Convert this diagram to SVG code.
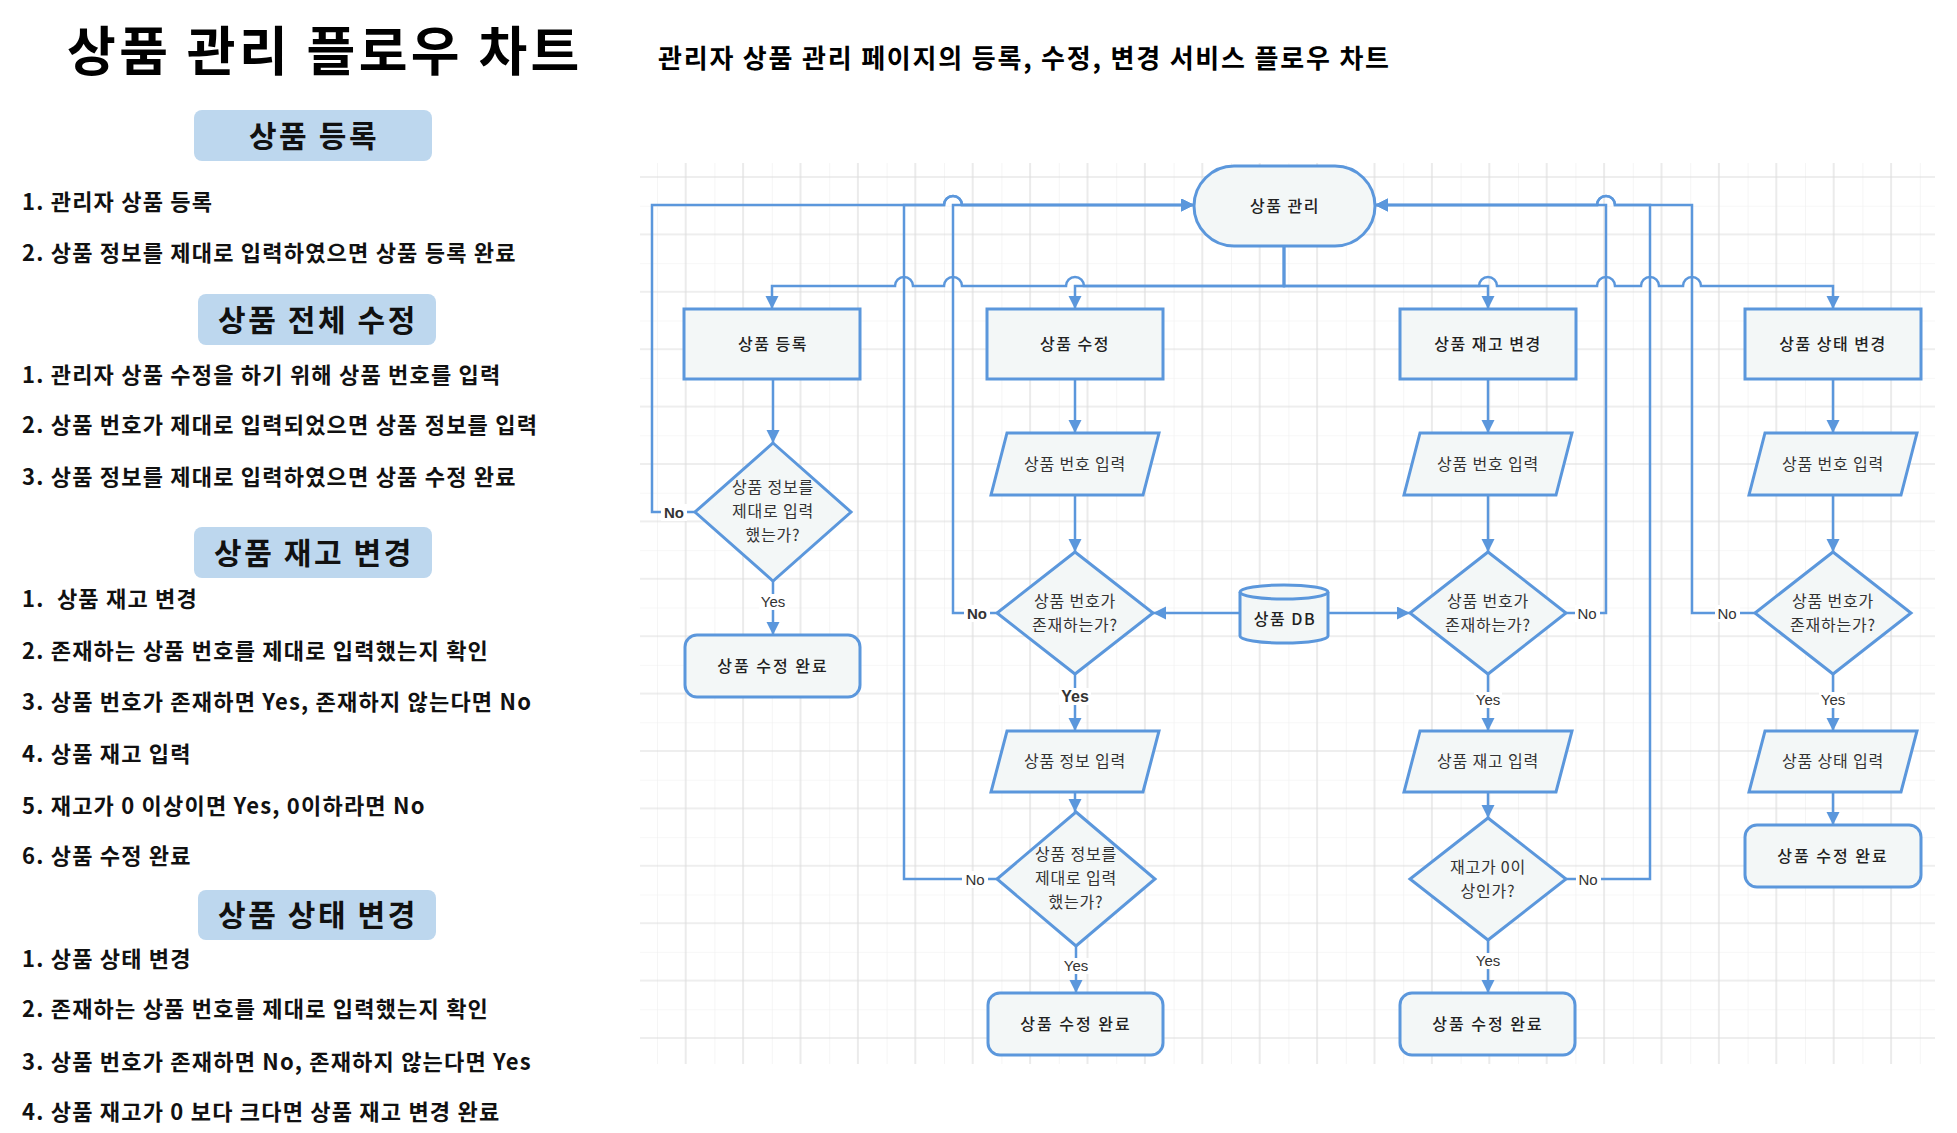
<svg xmlns="http://www.w3.org/2000/svg" width="1957" height="1133" viewBox="0 0 1957 1133">
<style>
.kr{font-family:"Noto Sans CJK KR","Noto Sans",sans-serif}
.title{font-size:53px;font-weight:bold;fill:#000;letter-spacing:3.4px}
.sub{font-size:26px;font-weight:bold;fill:#000;letter-spacing:1.8px}
.hdr{font-size:30px;font-weight:bold;fill:#111;text-anchor:middle;letter-spacing:2.6px}
.li{font-size:22px;font-weight:bold;fill:#111;white-space:pre;letter-spacing:1.2px}
.hbox{fill:#bdd7ee}
.node{fill:#f3f7f7;stroke:#5b97dc;stroke-width:3}
.edge{fill:none;stroke:#5b97dc;stroke-width:2.5}
.arr{marker-end:url(#arrow)}
.t{font-size:16px;text-anchor:middle;fill:#333;letter-spacing:0.8px}
.tb{font-size:16px;text-anchor:middle;fill:#222;font-weight:500;letter-spacing:1.5px}
.tc{font-size:16px;text-anchor:middle;fill:#222;font-weight:500;letter-spacing:2px}
.lbl{font-family:"Liberation Sans",Arial,sans-serif;font-size:15px;fill:#333;text-anchor:middle}
.lblb{font-weight:bold}
.lbg{fill:#ffffff}
</style>
<defs>
<marker id="arrow" markerUnits="userSpaceOnUse" markerWidth="14" markerHeight="14" refX="13" refY="6.5" orient="auto">
<path d="M0,0 L13,6.5 L0,13 z" fill="#5b97dc"/>
</marker>
<pattern id="grid" x="657" y="148.3" width="57.4" height="57.4" patternUnits="userSpaceOnUse">
<path d="M0,0 V57.4 M0,0 H57.4" stroke="#efefef" stroke-width="1.2" fill="none"/>
<path d="M28.7,0 V57.4 M0,28.7 H57.4" stroke="#dedede" stroke-width="1.2" fill="none"/>
</pattern>
</defs>
<rect width="1957" height="1133" fill="#ffffff"/>

<g id="header">
<text class="kr title" x="67" y="71">상품 관리 플로우 차트</text>
<text class="kr sub" x="658" y="68">관리자 상품 관리 페이지의 등록, 수정, 변경 서비스 플로우 차트</text>
</g>

<g id="legend">
<g id="sec-register">
<rect class="hbox" x="194" y="110" width="238" height="51" rx="8"/>
<text class="kr hdr" x="314" y="147">상품 등록</text>
<text class="kr li" x="22" y="210">1. 관리자 상품 등록</text>
<text class="kr li" x="22" y="261">2. 상품 정보를 제대로 입력하였으면 상품 등록 완료</text>
</g>
<g id="sec-edit">
<rect class="hbox" x="198" y="294" width="238" height="51" rx="8"/>
<text class="kr hdr" x="318" y="331">상품 전체 수정</text>
<text class="kr li" x="22" y="383">1. 관리자 상품 수정을 하기 위해 상품 번호를 입력</text>
<text class="kr li" x="22" y="433">2. 상품 번호가 제대로 입력되었으면 상품 정보를 입력</text>
<text class="kr li" x="22" y="485">3. 상품 정보를 제대로 입력하였으면 상품 수정 완료</text>
</g>
<g id="sec-stock">
<rect class="hbox" x="194" y="527" width="238" height="51" rx="8"/>
<text class="kr hdr" x="314" y="564">상품 재고 변경</text>
<text class="kr li" x="22" y="607">1.  상품 재고 변경</text>
<text class="kr li" x="22" y="659">2. 존재하는 상품 번호를 제대로 입력했는지 확인</text>
<text class="kr li" x="22" y="710">3. 상품 번호가 존재하면 Yes, 존재하지 않는다면 No</text>
<text class="kr li" x="22" y="762">4. 상품 재고 입력</text>
<text class="kr li" x="22" y="814">5. 재고가 0 이상이면 Yes, 0이하라면 No</text>
<text class="kr li" x="22" y="864">6. 상품 수정 완료</text>
</g>
<g id="sec-status">
<rect class="hbox" x="198" y="890" width="238" height="50" rx="8"/>
<text class="kr hdr" x="318" y="926">상품 상태 변경</text>
<text class="kr li" x="22" y="967">1. 상품 상태 변경</text>
<text class="kr li" x="22" y="1017">2. 존재하는 상품 번호를 제대로 입력했는지 확인</text>
<text class="kr li" x="22" y="1070">3. 상품 번호가 존재하면 No, 존재하지 않는다면 Yes</text>
<text class="kr li" x="22" y="1120">4. 상품 재고가 0 보다 크다면 상품 재고 변경 완료</text>
</g>
</g>

<rect id="grid-bg" x="640" y="163" width="1295" height="901" fill="url(#grid)"/>

<g id="connectors">
<path class="edge arr" d="M1284,247 V286 H1084 A9,9 0 0 0 1066,286 H962 A9,9 0 0 0 944,286 H913 A9,9 0 0 0 895,286 H772 V309"/>
<path class="edge arr" d="M1284,247 V286 H1075 V309"/>
<path class="edge arr" d="M1284,247 V286 H1488 V309"/>
<path class="edge arr" d="M1284,247 V286 H1479 A9,9 0 0 1 1497,286 H1597 A9,9 0 0 1 1615,286 H1641 A9,9 0 0 1 1659,286 H1683 A9,9 0 0 1 1701,286 H1833 V309"/>
<path class="edge arr" d="M695,512 H652 V205 H944 A9,9 0 0 1 962,205 H1194"/>
<path class="edge arr" d="M997,613 H953 V205 H1194"/>
<path class="edge arr" d="M997,879 H904 V205 H944 A9,9 0 0 1 962,205 H1194"/>
<path class="edge arr" d="M1566,613 H1606 V205 H1375"/>
<path class="edge arr" d="M1566,879 H1650 V205 H1615 A9,9 0 0 0 1597,205 H1375"/>
<path class="edge arr" d="M1755,613 H1692 V205 H1615 A9,9 0 0 0 1597,205 H1375"/>
<path class="edge arr" d="M773,379 V443"/>
<path class="edge arr" d="M773,581 V635"/>
<path class="edge arr" d="M1075,379 V433"/>
<path class="edge arr" d="M1075,495 V552"/>
<path class="edge arr" d="M1240,613 H1153"/>
<path class="edge arr" d="M1075,674 V731"/>
<path class="edge arr" d="M1075,792 V812"/>
<path class="edge arr" d="M1076,946 V993"/>
<path class="edge arr" d="M1488,379 V433"/>
<path class="edge arr" d="M1488,495 V552"/>
<path class="edge arr" d="M1328,613 H1410"/>
<path class="edge arr" d="M1488,674 V731"/>
<path class="edge arr" d="M1488,792 V818"/>
<path class="edge arr" d="M1488,940 V993"/>
<path class="edge arr" d="M1833,379 V433"/>
<path class="edge arr" d="M1833,495 V552"/>
<path class="edge arr" d="M1833,674 V731"/>
<path class="edge arr" d="M1833,792 V825"/>
<g id="edge-labels">
<rect class="lbg" x="661" y="504" width="26" height="17"/><text class="lbl lblb" x="674" y="518">No</text>
<rect class="lbg" x="759" y="594" width="28" height="16"/><text class="lbl" x="773" y="607">Yes</text>
<rect class="lbg" x="964" y="605" width="26" height="17"/><text class="lbl lblb" x="977" y="619">No</text>
<rect class="lbg" x="1059" y="688" width="32" height="17"/><text class="lbl lblb" x="1075" y="702" style="font-size:16px">Yes</text>
<rect class="lbg" x="962" y="871" width="26" height="17"/><text class="lbl" x="975" y="885">No</text>
<rect class="lbg" x="1062" y="958" width="28" height="16"/><text class="lbl" x="1076" y="971">Yes</text>
<rect class="lbg" x="1575" y="605" width="25" height="17"/><text class="lbl" x="1587" y="619">No</text>
<rect class="lbg" x="1474" y="692" width="28" height="16"/><text class="lbl" x="1488" y="705">Yes</text>
<rect class="lbg" x="1576" y="871" width="25" height="17"/><text class="lbl" x="1588" y="885">No</text>
<rect class="lbg" x="1474" y="953" width="28" height="16"/><text class="lbl" x="1488" y="966">Yes</text>
<rect class="lbg" x="1715" y="605" width="25" height="17"/><text class="lbl" x="1727" y="619">No</text>
<rect class="lbg" x="1819" y="692" width="28" height="16"/><text class="lbl" x="1833" y="705">Yes</text>
</g>
</g>

<g id="n-manage">
<rect class="node" x="1194" y="166" width="181" height="80" rx="40"/>
<text class="kr tb" x="1285" y="212">상품 관리</text>
</g>

<g id="n-register">
<rect class="node" x="684" y="309" width="176" height="70"/>
<text class="kr tb" x="773" y="350">상품 등록</text>
</g>
<g id="n-reg-check">
<polygon class="node" points="773,443 851,512 773,581 695,512"/>
<text class="kr t" x="773" y="493">상품 정보를</text>
<text class="kr t" x="773" y="517">제대로 입력</text>
<text class="kr t" x="773" y="541">했는가?</text>
</g>
<g id="n-reg-done">
<rect class="node" x="685" y="635" width="175" height="62" rx="12"/>
<text class="kr tc" x="773" y="672">상품 수정 완료</text>
</g>

<g id="n-edit">
<rect class="node" x="987" y="309" width="176" height="70"/>
<text class="kr tb" x="1075" y="350">상품 수정</text>
</g>
<g id="n-edit-no">
<polygon class="node" points="1007,433 1159,433 1143,495 991,495"/>
<text class="kr t" x="1075" y="470">상품 번호 입력</text>
</g>
<g id="n-edit-exist">
<polygon class="node" points="1075,552 1153,613 1075,674 997,613"/>
<text class="kr t" x="1075" y="607">상품 번호가</text>
<text class="kr t" x="1075" y="631">존재하는가?</text>
</g>
<g id="n-edit-info">
<polygon class="node" points="1007,731 1159,731 1143,792 991,792"/>
<text class="kr t" x="1075" y="767">상품 정보 입력</text>
</g>
<g id="n-edit-check">
<polygon class="node" points="1076,812 1155,879 1076,946 997,879"/>
<text class="kr t" x="1076" y="860">상품 정보를</text>
<text class="kr t" x="1076" y="884">제대로 입력</text>
<text class="kr t" x="1076" y="908">했는가?</text>
</g>
<g id="n-edit-done">
<rect class="node" x="988" y="993" width="175" height="62" rx="12"/>
<text class="kr tc" x="1076" y="1030">상품 수정 완료</text>
</g>

<g id="n-db">
<path class="node" d="M1240,592 A44,7 0 0 1 1328,592 V636 A44,7 0 0 1 1240,636 Z"/>
<path class="node" style="fill:none" d="M1240,592 A44,7 0 0 0 1328,592"/>
<text class="kr tb" x="1285" y="625">상품 DB</text>
</g>

<g id="n-stock">
<rect class="node" x="1400" y="309" width="176" height="70"/>
<text class="kr tb" x="1488" y="350">상품 재고 변경</text>
</g>
<g id="n-stock-no">
<polygon class="node" points="1420,433 1572,433 1556,495 1404,495"/>
<text class="kr t" x="1488" y="470">상품 번호 입력</text>
</g>
<g id="n-stock-exist">
<polygon class="node" points="1488,552 1566,613 1488,674 1410,613"/>
<text class="kr t" x="1488" y="607">상품 번호가</text>
<text class="kr t" x="1488" y="631">존재하는가?</text>
</g>
<g id="n-stock-input">
<polygon class="node" points="1420,731 1572,731 1556,792 1404,792"/>
<text class="kr t" x="1488" y="767">상품 재고 입력</text>
</g>
<g id="n-stock-check">
<polygon class="node" points="1488,818 1566,879 1488,940 1410,879"/>
<text class="kr t" x="1488" y="873">재고가 0이</text>
<text class="kr t" x="1488" y="897">상인가?</text>
</g>
<g id="n-stock-done">
<rect class="node" x="1400" y="993" width="175" height="62" rx="12"/>
<text class="kr tc" x="1488" y="1030">상품 수정 완료</text>
</g>

<g id="n-status">
<rect class="node" x="1745" y="309" width="176" height="70"/>
<text class="kr tb" x="1833" y="350">상품 상태 변경</text>
</g>
<g id="n-status-no">
<polygon class="node" points="1765,433 1917,433 1901,495 1749,495"/>
<text class="kr t" x="1833" y="470">상품 번호 입력</text>
</g>
<g id="n-status-exist">
<polygon class="node" points="1833,552 1911,613 1833,674 1755,613"/>
<text class="kr t" x="1833" y="607">상품 번호가</text>
<text class="kr t" x="1833" y="631">존재하는가?</text>
</g>
<g id="n-status-input">
<polygon class="node" points="1765,731 1917,731 1901,792 1749,792"/>
<text class="kr t" x="1833" y="767">상품 상태 입력</text>
</g>
<g id="n-status-done">
<rect class="node" x="1745" y="825" width="176" height="62" rx="12"/>
<text class="kr tc" x="1833" y="862">상품 수정 완료</text>
</g>
</svg>
